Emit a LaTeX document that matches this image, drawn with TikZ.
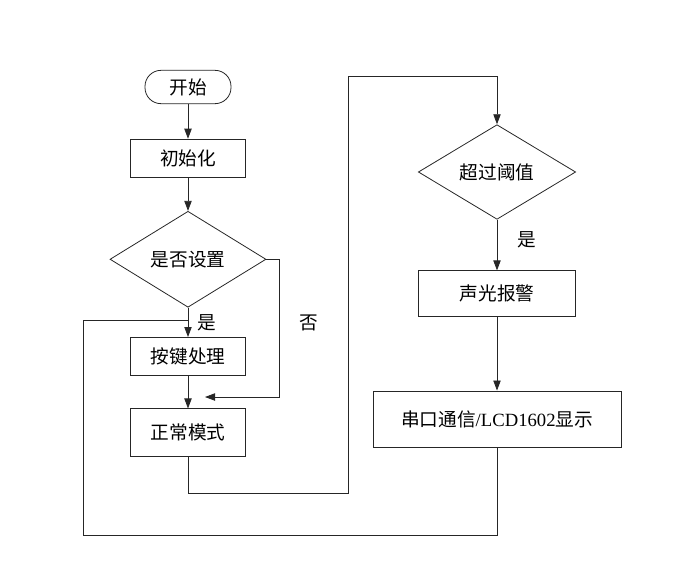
\documentclass[tikz,border=0pt]{standalone}
\usepackage{fontspec}
\setmainfont{Liberation Serif}
\newfontfamily\cjk{Noto Sans CJK SC}
\usetikzlibrary{arrows.meta,shapes.geometric,positioning,calc}
\definecolor{lineclr}{HTML}{262626}
\tikzset{
  base/.style={draw=lineclr,line width=0.6pt,font=\fontsize{14}{16}\selectfont\cjk,align=center,inner sep=2pt},
  term_box/.style={base,rounded corners=12pt,minimum width=64.5pt,minimum height=25pt},
  proc_box/.style={base,minimum width=86pt,minimum height=28.5pt},
  dec_box/.style={base,diamond,aspect=1.6,inner sep=0pt,minimum width=117pt,minimum height=72pt},
  lbl/.style={font=\fontsize{14}{16}\selectfont\cjk,inner sep=0pt},
  arr/.style={-{Triangle[length=7.5pt,width=5.5pt]},draw=lineclr,line width=0.6pt},
  line/.style={draw=lineclr,line width=0.6pt},
}
\begin{document}
\begin{tikzpicture}[x=0.75pt,y=-0.75pt,node distance=25pt]
    \useasboundingbox (0,0) rectangle (692,583);
    % left column
    \node[term_box] (start) at (188,87) {开始};
    \node[proc_box,below=26pt of start] (init) {初始化};
    \node[dec_box,below=of init] (set) {是否设置};
    \node[proc_box,below=22pt of set] (key) {按键处理};
    \node[proc_box,minimum height=36pt,below=24.5pt of key] (normal) {正常模式};
    % right column
    \node[dec_box,minimum width=118pt,minimum height=71pt] (over) at (497,172) {超过阈值};
    \node[proc_box,minimum width=118pt,minimum height=34.5pt,below=38pt of over] (alarm) {声光报警};
    \node[proc_box,minimum width=186pt,minimum height=42pt,below=55pt of alarm] (disp) {串口通信{\rmfamily/LCD1602}显示};
    \coordinate (noend) at (205,397);
    \coordinate (merge) at (188,320);
    \draw[arr](start)--(init);\draw[arr](init)--(set);
    \draw[arr](set)-- node[lbl,right=6.5pt] {是} (key);
    \draw[arr](set.east)-- ++(13,0) |- node[lbl,pos=0.23,right=15pt] {否} (noend);
    \draw[arr](key)--(normal);
    \draw[arr](normal.south)-- ++(0,36) -| (348,76) -| (over.north);
    \draw[arr](over)-- node[lbl,pos=0.4,right=15pt] {是} (alarm);
    \draw[arr](alarm)--(disp);
    \draw[line](disp.south)-- ++(0,88) -| (83,320) -- (merge);
  \end{tikzpicture}
\end{document}
